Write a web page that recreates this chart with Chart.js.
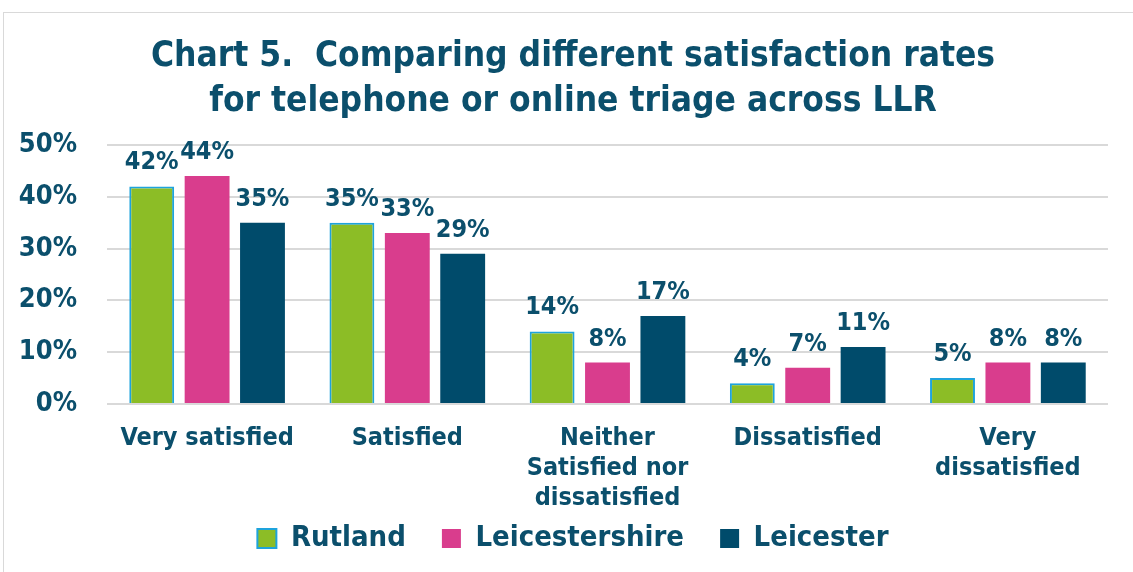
<!DOCTYPE html>
<html>
<head>
<meta charset="utf-8">
<script src="https://cdn.jsdelivr.net/npm/chart.js@4/dist/chart.umd.min.js"></script>
<style>
    html, body { margin: 0; padding: 0; background: #fff; }
    #caja {
        position: absolute; left: 3px; top: 12px; width: 1140px; height: 570px;
        border: 1px solid #d9d9d9; box-sizing: border-box;
    }
    #lienzo { position: absolute; left: 0; top: 0; }
</style>
</head>
<body>
<div id="caja"></div>
<canvas id="lienzo" width="1133" height="572"></canvas>
<script>
const categorias = ['Very satisfied', 'Satisfied', ['Neither', 'Satisfied nor', 'dissatisfied'], 'Dissatisfied', ['Very', 'dissatisfied']];
const rutland = [42, 35, 14, 4, 5];
const leicestershire = [44, 33, 8, 7, 8];
const leicester = [35, 29, 17, 11, 8];
const ticksY = [0, 10, 20, 30, 40, 50];

const azulTexto = '#0b4f6c';
const fuente = '"DejaVu Sans Condensed", "DejaVu Sans", sans-serif';

// etiquetas de valor encima de cada barra
const etiquetas = {
    id: 'etiquetas',
    afterDatasetsDraw(chart) {
        const ctx = chart.ctx;
        ctx.save();
        ctx.font = 'bold 25px ' + fuente;
        ctx.fillStyle = azulTexto;
        ctx.textAlign = 'center';
        ctx.textBaseline = 'alphabetic';
        chart.data.datasets.forEach((ds, i) => {
            chart.getDatasetMeta(i).data.forEach((barra, j) => {
                ctx.fillText(ds.data[j] + '%', barra.x, barra.y - 17);
            });
        });
        ctx.restore();
    }
};

new Chart(document.getElementById('lienzo'), {
    type: 'bar',
    data: {
        labels: categorias,
        datasets: [
            { label: 'Rutland', data: rutland, backgroundColor: '#8cbd26', borderColor: '#1ea3dc', borderWidth: 2 },
            { label: 'Leicestershire', data: leicestershire, backgroundColor: '#d93d8d', borderColor: '#d93d8d', borderWidth: 0 },
            { label: 'Leicester', data: leicester, backgroundColor: '#004b6b', borderColor: '#004b6b', borderWidth: 0 }
        ]
    },
    options: {
        responsive: false,
        animation: false,
        categoryPercentage: 0.83,
        barPercentage: 0.81,
        layout: { padding: { left: 18, right: 5, top: 0, bottom: 9 } },
        plugins: {
            title: {
                display: true,
                text: ['Chart 5.  Comparing different satisfaction rates', 'for telephone or online triage across LLR'],
                color: azulTexto,
                font: { family: fuente, size: 35, weight: 'bold', lineHeight: 1.3 },
                padding: { top: 34, bottom: 20 }
            },
            legend: {
                position: 'bottom',
                labels: {
                    color: azulTexto,
                    font: { family: fuente, size: 29, weight: 'bold' },
                    boxWidth: 19,
                    boxHeight: 19,
                    padding: 10,
                    // más separación entre elementos de la leyenda
                    generateLabels: (chart) => Chart.defaults.plugins.legend.labels.generateLabels(chart)
                        .map((item, i, todos) => {
                            if (i < todos.length - 1) item.text += '\u2002\u2002';
                            return item;
                        })
                }
            },
            tooltip: { enabled: false }
        },
        scales: {
            x: {
                afterFit: (eje) => { eje.height = 110; },
                grid: { display: false, drawTicks: false },
                border: { display: false },
                ticks: {
                    color: azulTexto,
                    font: { family: fuente, size: 25, weight: 'bold', lineHeight: 1.2 },
                    maxRotation: 0,
                    padding: 19
                }
            },
            y: {
                min: 0,
                max: 50,
                afterBuildTicks: (eje) => { eje.ticks = ticksY.map(v => ({ value: v })); },
                afterFit: (eje) => { eje.width = 89; },
                grid: { color: '#d9d9d9', lineWidth: 2, drawTicks: false },
                border: { display: false },
                ticks: {
                    color: azulTexto,
                    font: { family: fuente, size: 27, weight: 'bold' },
                    padding: 30,
                    callback: (v) => v + '%'
                }
            },
            // eje vacío a la derecha, sólo para reservar margen
            derecha: {
                type: 'linear',
                position: 'right',
                display: true,
                afterFit: (eje) => { eje.width = 20; },
                grid: { display: false },
                border: { display: false },
                ticks: { display: false }
            }
        }
    },
    plugins: [etiquetas]
});
</script>
</body>
</html>
